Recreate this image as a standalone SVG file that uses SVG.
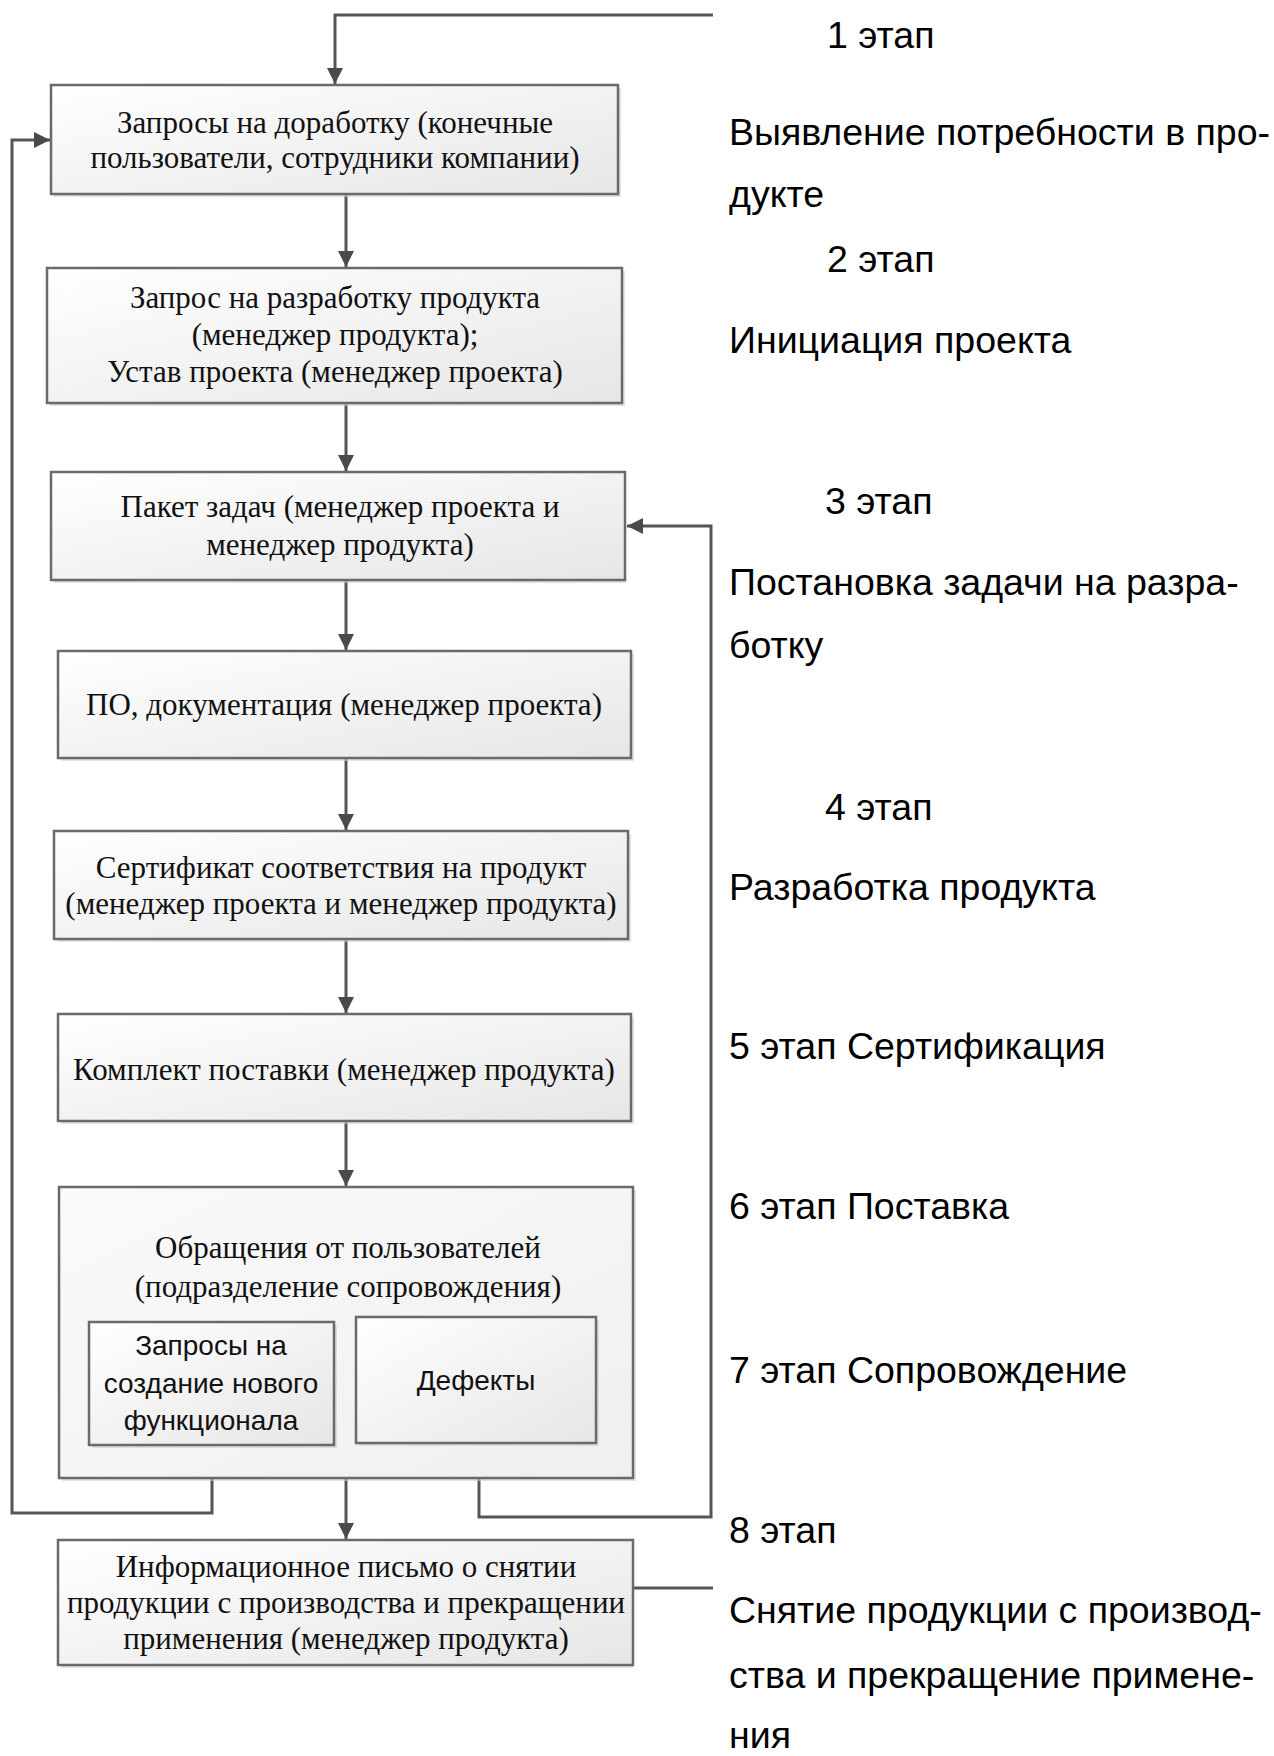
<svg xmlns="http://www.w3.org/2000/svg" width="1274" height="1756" viewBox="0 0 1274 1756">
<defs>
<linearGradient id="g" x1="0" y1="0" x2="1" y2="1">
<stop offset="0" stop-color="#ffffff"/>
<stop offset="1" stop-color="#e6e6e6"/>
</linearGradient>
<linearGradient id="gb" x1="0" y1="0" x2="1" y2="1">
<stop offset="0" stop-color="#fafafa"/>
<stop offset="1" stop-color="#efefef"/>
</linearGradient>
<marker id="ah" markerUnits="userSpaceOnUse" markerWidth="18" markerHeight="16" refX="16" refY="8" orient="auto">
<path d="M0,0 L16,8 L0,16 Z" fill="#4a4a4a"/>
</marker>
</defs>
<style>
.box{fill:url(#g);stroke:#6a6a6a;stroke-width:2.5}
.big{fill:url(#gb);stroke:#6a6a6a;stroke-width:2.5}
.sh{fill:#cfcfcf;opacity:0.6}
.t{font-family:"Liberation Serif","Times New Roman",serif;font-size:31px;fill:#111111;text-anchor:middle}
.c{font-family:"Liberation Sans",Arial,sans-serif;font-size:28px;fill:#111111;text-anchor:middle}
.s{font-family:"Liberation Sans",Arial,sans-serif;font-size:37.5px;fill:#000}
.ln{fill:none;stroke:#555555;stroke-width:3}
.ar{fill:none;stroke:#555555;stroke-width:3;marker-end:url(#ah)}
</style>
<rect width="1274" height="1756" fill="#ffffff"/>

<g id="connectors">
<path class="ar" d="M713,15 L335,15 L335,84"/>
<path class="ar" d="M346,194 L346,267"/>
<path class="ar" d="M346,403 L346,471"/>
<path class="ar" d="M346,580 L346,650"/>
<path class="ar" d="M346,758 L346,830"/>
<path class="ar" d="M346,939 L346,1013"/>
<path class="ar" d="M346,1121 L346,1186"/>
<path class="ar" d="M346,1478 L346,1539"/>
<path class="ar" d="M212,1445 L212,1513 L12,1513 L12,140 L50,140"/>
<path class="ar" d="M479,1443 L479,1517 L711,1517 L711,526 L627,526"/>
<path class="ln" d="M633,1588 L713,1588"/>
</g>

<g id="node1">
<rect class="sh" x="54" y="88" width="567" height="109"/>
<rect class="box" x="51" y="85" width="567" height="109"/>
<text class="t" x="335" y="133">Запросы на доработку (конечные</text>
<text class="t" x="335" y="168">пользователи, сотрудники компании)</text>
</g>

<g id="node2">
<rect class="sh" x="50" y="271" width="575" height="135"/>
<rect class="box" x="47" y="268" width="575" height="135"/>
<text class="t" x="335" y="308">Запрос на разработку продукта</text>
<text class="t" x="335" y="345">(менеджер продукта);</text>
<text class="t" x="335" y="382">Устав проекта (менеджер проекта)</text>
</g>

<g id="node3">
<rect class="sh" x="54" y="475" width="572" height="108"/>
<rect class="box" x="51" y="472" width="574" height="108"/>
<text class="t" x="340" y="517">Пакет задач (менеджер проекта и</text>
<text class="t" x="340" y="555">менеджер продукта)</text>
</g>

<g id="node4">
<rect class="sh" x="61" y="654" width="573" height="107"/>
<rect class="box" x="58" y="651" width="573" height="107"/>
<text class="t" x="344" y="715">ПО, документация (менеджер проекта)</text>
</g>

<g id="node5">
<rect class="sh" x="57" y="834" width="574" height="108"/>
<rect class="box" x="54" y="831" width="574" height="108"/>
<text class="t" x="341" y="878">Сертификат соответствия на продукт</text>
<text class="t" x="341" y="914">(менеджер проекта и менеджер продукта)</text>
</g>

<g id="node6">
<rect class="sh" x="61" y="1017" width="573" height="107"/>
<rect class="box" x="58" y="1014" width="573" height="107"/>
<text class="t" x="344" y="1080">Комплект поставки (менеджер продукта)</text>
</g>

<g id="node7">
<rect class="sh" x="62" y="1190" width="574" height="291"/>
<rect class="big" x="59" y="1187" width="574" height="291"/>
<text class="t" x="348" y="1258">Обращения от пользователей</text>
<text class="t" x="348" y="1297">(подразделение сопровождения)</text>
<g id="node7a">
<rect class="sh" x="92" y="1325" width="245" height="123"/>
<rect class="box" x="89" y="1322" width="245" height="123"/>
<text class="c" x="211" y="1355">Запросы на</text>
<text class="c" x="211" y="1393">создание нового</text>
<text class="c" x="211" y="1430">функционала</text>
</g>
<g id="node7b">
<rect class="sh" x="359" y="1320" width="240" height="126"/>
<rect class="box" x="356" y="1317" width="240" height="126"/>
<text class="c" x="476" y="1390">Дефекты</text>
</g>
</g>

<g id="node8">
<rect class="sh" x="61" y="1543" width="572" height="125"/>
<rect class="box" x="58" y="1540" width="575" height="125"/>
<text class="t" x="346" y="1577">Информационное письмо о снятии</text>
<text class="t" x="346" y="1613">продукции с производства и прекращении</text>
<text class="t" x="346" y="1649">применения (менеджер продукта)</text>
</g>

<g id="stages">
<text class="s" x="827" y="48">1 этап</text>
<text class="s" x="729" y="145">Выявление потребности в про-</text>
<text class="s" x="729" y="207">дукте</text>
<text class="s" x="827" y="272">2 этап</text>
<text class="s" x="729" y="353">Инициация проекта</text>
<text class="s" x="825" y="514">3 этап</text>
<text class="s" x="729" y="595">Постановка задачи на разра-</text>
<text class="s" x="729" y="658">ботку</text>
<text class="s" x="825" y="820">4 этап</text>
<text class="s" x="729" y="900">Разработка продукта</text>
<text class="s" x="729" y="1059">5 этап Сертификация</text>
<text class="s" x="729" y="1219">6 этап Поставка</text>
<text class="s" x="729" y="1383">7 этап Сопровождение</text>
<text class="s" x="729" y="1543">8 этап</text>
<text class="s" x="729" y="1623">Снятие продукции с производ-</text>
<text class="s" x="729" y="1688">ства и прекращение примене-</text>
<text class="s" x="729" y="1748">ния</text>
</g>
</svg>
